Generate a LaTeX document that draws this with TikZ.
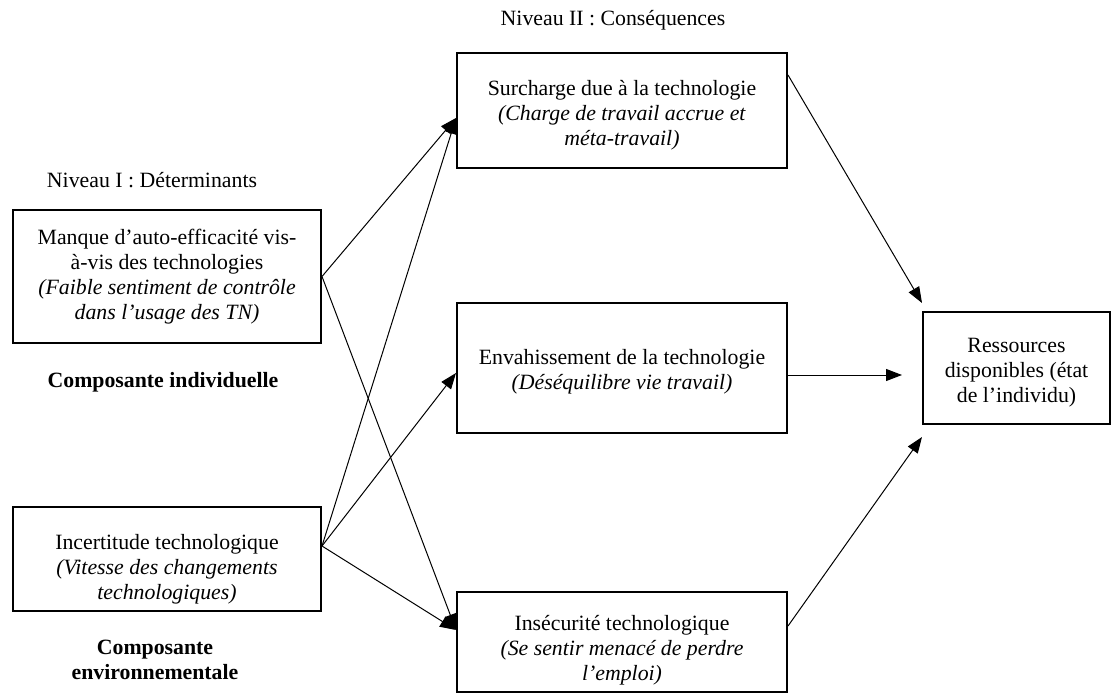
\documentclass[tikz,border=0pt]{standalone}
\usepackage{fontspec}
\setmainfont{Liberation Serif}
\usetikzlibrary{arrows.meta}

\tikzset{
  every node/.style={font=\fontsize{10.9}{12.5}\selectfont, inner sep=0pt},
  bloc/.style={draw=black, line width=1pt},
  texte/.style={align=center},
  fleche/.style={-{Triangle[length=8pt,width=6pt]}, line width=0.5pt}
}

\begin{document}
\begin{tikzpicture}[x=0.5pt,y=-0.5pt]
    \useasboundingbox (0,0) rectangle (1113,695);
    \node (niv2) at (613,20) {Niveau II : Conséquences};
    \node (niv1) at (152,180) {Niveau I : Déterminants};
    \node[bloc, minimum width=165pt, minimum height=57.5pt] (surcharge) at (622,110.5) {};
    \node[texte] (surchargeT) at ([yshift=-2.5pt]surcharge.center)
        {Surcharge due à la technologie\\ \textit{(Charge de travail accrue et}\\ \textit{méta-travail)}};
    \node[bloc, minimum width=165pt, minimum height=65pt] (envah) at (622,368) {};
    \node[texte] (envahT) at ([yshift=-2pt]envah.center)
        {Envahissement de la technologie\\ \textit{(Déséquilibre vie travail)}};
    \node[bloc, minimum width=165pt, minimum height=50pt] (insecur) at (622,642) {};
    \node[texte] (insecurT) at ([yshift=-4pt]insecur.center)
        {Insécurité technologique\\ \textit{(Se sentir menacé de perdre}\\ \textit{l’emploi)}};
    \node[bloc, minimum width=154pt, minimum height=66.5pt] (manque) at (167,276.5) {};
    \node[texte] (manqueT) at (manque.center)
        {Manque d’auto-efficacité vis-\\ à-vis des technologies\\ \textit{(Faible sentiment de contrôle}\\ \textit{dans l’usage des TN)}};
    \node[bloc, minimum width=154pt, minimum height=52pt] (incert) at (167,559) {};
    \node[texte] (incertT) at ([yshift=-5pt]incert.center)
        {Incertitude technologique\\ \textit{(Vitesse des changements}\\ \textit{technologiques)}};
    \node[bloc, minimum width=93.5pt, minimum height=56pt] (ressources) at (1016.5,368) {};
    \node[texte] (ressourcesT) at ([yshift=-2.5pt]ressources.center)
        {Ressources\\ disponibles (état\\ de l’individu)};
    \node[texte] (compind) at (163,382) {\textbf{Composante individuelle}};
    \node[texte] (compenv) at (155,660) {\textbf{Composante}\\ \textbf{environnementale}};
    \coordinate (incOut) at ([yshift=6.5pt]incert.east);
    \coordinate (surIn) at ([yshift=-3.75pt]surcharge.west);
    \coordinate (envIn) at ([yshift=-2.5pt]envah.west);
    \coordinate (insIn) at ([yshift=6pt]insecur.west);
    \draw[fleche] (manque.east) -- (surIn);
    \draw[fleche] (manque.east) -- (insIn);
    \draw[fleche] (incOut) -- (surIn);
    \draw[fleche] (incOut) -- (envIn);
    \draw[fleche] (incOut) -- (insIn);
    \draw[fleche] ([yshift=17.75pt]surcharge.east) -- ([yshift=4pt]ressources.north west);
    \draw[fleche] ([yshift=-3.5pt]envah.east) -- ([xshift=-10pt,yshift=-3.5pt]ressources.west);
    \draw[fleche] ([yshift=8pt]insecur.east) -- ([yshift=-6pt]ressources.south west);
\end{tikzpicture}
\end{document}
